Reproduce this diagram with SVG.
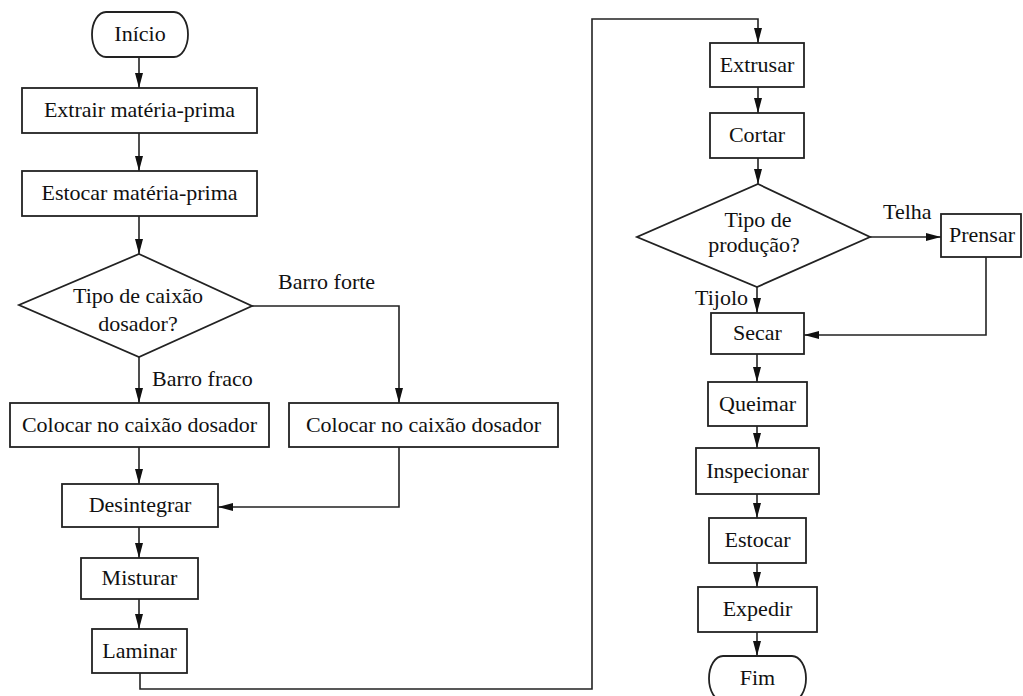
<svg xmlns="http://www.w3.org/2000/svg" width="1023" height="696" viewBox="0 0 1023 696">
<style>
.box{fill:#fff;stroke:#222;stroke-width:1.8}
.ln{fill:none;stroke:#222;stroke-width:1.6}
text{font-family:"Liberation Serif","Times New Roman",serif;font-size:22px;fill:#111}
.c{text-anchor:middle}
</style>
<defs>
<marker id="ah" markerUnits="userSpaceOnUse" markerWidth="16" markerHeight="10" refX="15" refY="4" orient="auto">
<path d="M0,0 L15,4 L0,8 Z" fill="#111"/>
</marker>
</defs>
<rect width="1023" height="696" fill="#fff"/>
<g id="connectors" class="ln" marker-end="url(#ah)">
<path class="ln" d="M139,57 V88" marker-end="url(#ah)"/>
<path class="ln" d="M139,133 V171" marker-end="url(#ah)"/>
<path class="ln" d="M139,216 V254" marker-end="url(#ah)"/>
<path class="ln" d="M139,357 V403" marker-end="url(#ah)"/>
<path class="ln" d="M252,306 H399 V403" marker-end="url(#ah)"/>
<path class="ln" d="M139,447 V484" marker-end="url(#ah)"/>
<path class="ln" d="M399,447 V507 H218" marker-end="url(#ah)"/>
<path class="ln" d="M139,527 V558" marker-end="url(#ah)"/>
<path class="ln" d="M139,599 V629" marker-end="url(#ah)"/>
<path class="ln" d="M140,673 V689 H592 V19 H758 V43" marker-end="url(#ah)"/>
<path class="ln" d="M758,87 V113" marker-end="url(#ah)"/>
<path class="ln" d="M758,158 V184" marker-end="url(#ah)"/>
<path class="ln" d="M870,237 H941" marker-end="url(#ah)"/>
<path class="ln" d="M757,287 V313" marker-end="url(#ah)"/>
<path class="ln" d="M986,257 V335 H804" marker-end="url(#ah)"/>
<path class="ln" d="M757,354 V382" marker-end="url(#ah)"/>
<path class="ln" d="M757,426 V448" marker-end="url(#ah)"/>
<path class="ln" d="M757,494 V518" marker-end="url(#ah)"/>
<path class="ln" d="M757,563 V587" marker-end="url(#ah)"/>
<path class="ln" d="M757,632 V656" marker-end="url(#ah)"/>
</g>
<g id="labels">
<text x="278" y="289">Barro forte</text>
<text x="152" y="386">Barro fraco</text>
<text x="883" y="219">Telha</text>
<text x="695" y="305">Tijolo</text>
</g>
<g id="inicio"><path class="box" d="M106,12 H174 A14,22.5 0 0 1 174,57 H106 A14,22.5 0 0 1 106,12 Z"/><text class="c" x="140" y="41">Início</text></g>
<g id="extrair"><rect class="box" x="22" y="88" width="235" height="45"/><text class="c" x="139.5" y="117">Extrair matéria-prima</text></g>
<g id="estocar-mp"><rect class="box" x="22" y="171" width="235" height="45"/><text class="c" x="139.5" y="200">Estocar matéria-prima</text></g>
<g id="decisao-caixao"><path class="box" d="M139,254 L252,306 L139,357 L19,305 Z"/><text class="c" x="138" y="303">Tipo de caixão</text><text class="c" x="138" y="331">dosador?</text></g>
<g id="colocar-fraco"><rect class="box" x="10" y="403" width="259" height="44"/><text class="c" x="139.5" y="432">Colocar no caixão dosador</text></g>
<g id="colocar-forte"><rect class="box" x="289" y="403" width="269" height="44"/><text class="c" x="423.5" y="432">Colocar no caixão dosador</text></g>
<g id="desintegrar"><rect class="box" x="62" y="484" width="156" height="43"/><text class="c" x="140" y="512">Desintegrar</text></g>
<g id="misturar"><rect class="box" x="81" y="558" width="117" height="41"/><text class="c" x="139.5" y="585">Misturar</text></g>
<g id="laminar"><rect class="box" x="92" y="629" width="95" height="44"/><text class="c" x="139.5" y="658">Laminar</text></g>
<g id="extrusar"><rect class="box" x="710" y="43" width="94" height="44"/><text class="c" x="757" y="72">Extrusar</text></g>
<g id="cortar"><rect class="box" x="710" y="113" width="94" height="45"/><text class="c" x="757" y="142">Cortar</text></g>
<g id="decisao-producao"><path class="box" d="M758,184 L870,237 L757,287 L637,237 Z"/><text class="c" x="758" y="227">Tipo de</text><text class="c" x="754" y="252">produção?</text></g>
<g id="prensar"><rect class="box" x="941" y="214" width="80" height="43"/><text class="c" x="982" y="242">Prensar</text></g>
<g id="secar"><rect class="box" x="711" y="313" width="93" height="41"/><text class="c" x="757.5" y="340">Secar</text></g>
<g id="queimar"><rect class="box" x="708" y="382" width="99" height="44"/><text class="c" x="757.5" y="411">Queimar</text></g>
<g id="inspecionar"><rect class="box" x="696" y="448" width="123" height="46"/><text class="c" x="757.5" y="478">Inspecionar</text></g>
<g id="estocar"><rect class="box" x="709" y="518" width="97" height="45"/><text class="c" x="757.5" y="547">Estocar</text></g>
<g id="expedir"><rect class="box" x="698" y="587" width="119" height="45"/><text class="c" x="757.5" y="616">Expedir</text></g>
<g id="fim"><path class="box" d="M723,656 H792 A14,22.5 0 0 1 792,701 H723 A14,22.5 0 0 1 723,656 Z"/><text class="c" x="757.5" y="685">Fim</text></g>
</svg>
